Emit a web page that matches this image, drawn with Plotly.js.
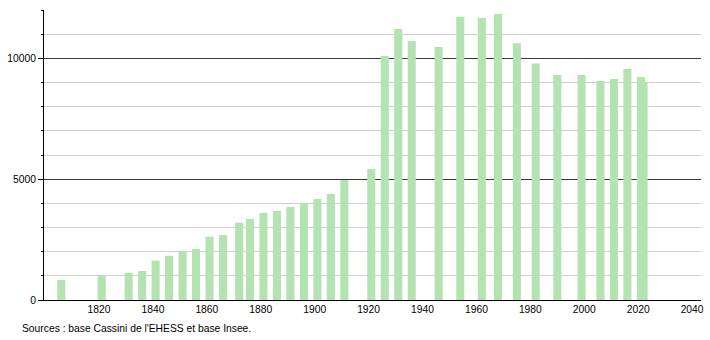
<!DOCTYPE html>
<html>
<head>
<meta charset="utf-8">
<script src="https://cdn.plot.ly/plotly-3.0.1.min.js"></script>
<style>html,body{margin:0;padding:0;background:#fff;}#chart{width:710px;height:340px;}</style>
</head>
<body>
<div id="chart"></div>
<script>
const years = [1806,1821,1831,1836,1841,1846,1851,1856,1861,1866,1872,1876,1881,1886,1891,1896,1901,1906,1911,1921,1926,1931,1936,1946,1954,1962,1968,1975,1982,1990,1999,2006,2011,2016,2021,2022];
const population = [830,1000,1120,1200,1630,1830,2040,2110,2620,2690,3200,3350,3600,3680,3850,3990,4180,4390,4970,5420,10100,11210,10720,10470,11720,11670,11840,10620,9790,9310,9310,9060,9140,9560,9230,8990];
const xTickVals = [1820,1840,1860,1880,1900,1920,1940,1960,1980,2000,2020,2040];
const xTickText = ['1820','1840','1860','1880','1900','1920','1940','1960','1980','2000','2020','2040'];
const yMajorTicks = [0,5000,10000];
const yMajorText = ['0','5000','10000'];
const sourceText = "Sources : base Cassini de l'EHESS et base Insee.";

const trace = {
  type: 'bar',
  x: years,
  y: population,
  width: years.map(() => 3),
  marker: {color: 'rgb(180,227,178)', line: {width: 0}},
  hoverinfo: 'x+y'
};

const layout = {
  width: 710, height: 340,
  margin: {l: 44, r: 9, t: 10, b: 40},
  paper_bgcolor: '#fff', plot_bgcolor: '#fff',
  font: {family: '"Liberation Sans", Arial, sans-serif', size: 10.3, color: '#000'},
  showlegend: false,
  barmode: 'overlay',
  xaxis: {
    range: [1799.6, 2043.3],
    tickvals: xTickVals, ticktext: xTickText,
    showgrid: false, zeroline: false,
    showline: true, linecolor: '#000', linewidth: 1,
    ticks: '', ticklen: 0,
    tickfont: {size: 10.3}
  },
  yaxis: {
    range: [0, 12000],
    tickvals: yMajorTicks, ticktext: yMajorText,
    showgrid: true, gridcolor: '#3a3a3a', gridwidth: 1,
    zeroline: false,
    showline: true, linecolor: '#000', linewidth: 1,
    ticks: 'outside', ticklen: 5, tickcolor: '#000', tickwidth: 1,
    tickfont: {size: 10.3},
    minor: {dtick: 1000, showgrid: true, gridcolor: '#cfcfcf', gridwidth: 1, ticks: 'outside', ticklen: 2, tickcolor: '#000'}
  },
  annotations: [{
    text: sourceText, xref: 'paper', yref: 'paper',
    x: -24/657, y: -28/290, xanchor: 'left', yanchor: 'middle',
    showarrow: false, font: {size: 10.3, color: '#000'}
  }]
};

Plotly.newPlot('chart', [trace], layout, {displayModeBar: false, staticPlot: true});
</script>
</body>
</html>
